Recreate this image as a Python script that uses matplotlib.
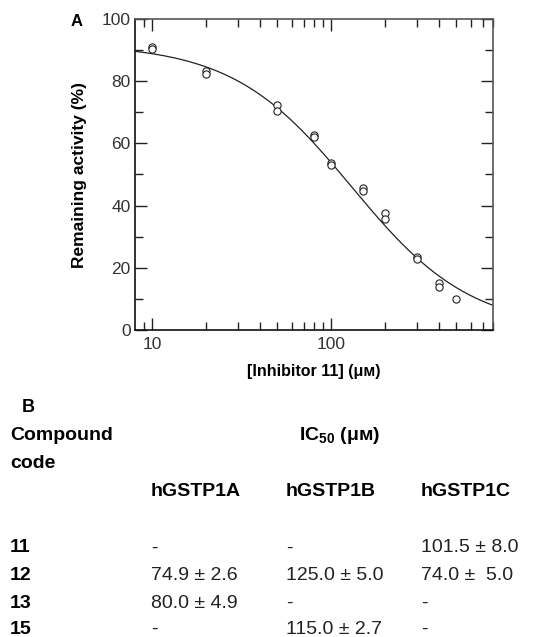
import numpy as np
import matplotlib
matplotlib.use("Agg")
import matplotlib.pyplot as plt
from matplotlib.ticker import FixedLocator, NullFormatter, FixedFormatter

plt.rcParams["font.family"] = ["Liberation Sans", "DejaVu Sans"]
plt.rcParams["mathtext.fontset"] = "custom"
plt.rcParams["mathtext.rm"] = "Liberation Sans"
plt.rcParams["mathtext.bf"] = "Liberation Sans:bold"

# panel A: inhibitor 11 dose response (duplicates)
conc = [10, 10, 20, 20, 50, 50, 80, 80, 100, 100, 150, 150, 200, 200, 300, 300, 400, 400, 500]
activity = [91.0, 90.5, 83.4, 82.3, 72.3, 70.4, 62.7, 62.1, 53.6, 52.9, 45.5, 44.8,
            37.5, 35.8, 23.4, 22.7, 15.0, 13.9, 10.1]
# fitted curve parameters (top, IC50, Hill slope)
fit_top, fit_ic50, fit_hill = 92.0, 130.0, 1.30

# panel B: table
col_headers = ["hGSTP1A", "hGSTP1B", "hGSTP1C"]
compounds = ["11", "12", "13", "15"]
col_a = ["-", "74.9 \u00b1 2.6", "80.0 \u00b1 4.9", "-"]
col_b = ["-", "125.0 \u00b1 5.0", "-", "115.0 \u00b1 2.7"]
col_c = ["101.5 \u00b1 8.0", "74.0 \u00b1  5.0", "-", "-"]

W, H = 544, 637
fig = plt.figure(figsize=(W / 100, H / 100), dpi=100)

def fx(px):
    return px / W

def fy(py):
    return 1 - py / H

ax = fig.add_axes([fx(135), fy(330), fx(493) - fx(135), fy(19) - fy(330)])
ax.set_xscale("log")
ax.set_xlim(8, 800)
ax.set_ylim(0, 100)

xs = np.logspace(np.log10(8), np.log10(800), 300)
ax.plot(xs, fit_top / (1 + (xs / fit_ic50) ** fit_hill), color="#222222", lw=0.9)
ax.plot(conc, activity, "o", mfc="white", mec="#222222", ms=5.2, mew=0.8, ls="none")

ax.xaxis.set_major_locator(FixedLocator([10, 100]))
ax.xaxis.set_major_formatter(FixedFormatter(["10", "100"]))
ax.xaxis.set_minor_locator(FixedLocator([9, 20, 30, 40, 50, 60, 70, 80, 90,
                                         200, 300, 400, 500, 600, 700, 800]))
ax.xaxis.set_minor_formatter(NullFormatter())
ax.set_yticks([0, 20, 40, 60, 80, 100])
ax.set_yticks([10, 30, 50, 70, 90], minor=True)

ax.tick_params(which="both", direction="in", top=True, right=True, width=1.0,
               colors="#222222", labelcolor="#333333", labelsize=12.5)
ax.tick_params(which="major", length=8.5)
ax.tick_params(axis="x", which="major", pad=5)
ax.tick_params(axis="y", which="major", pad=3)
ax.tick_params(which="minor", length=5.5)
for side in ["left", "bottom"]:
    ax.spines[side].set_linewidth(1.2)
    ax.spines[side].set_color("#111111")
for side in ["top", "right"]:
    ax.spines[side].set_linewidth(1.2)
    ax.spines[side].set_color("#555555")

ax.set_ylabel("Remaining activity (%)", fontsize=12.5, fontweight="bold", labelpad=11)
ax.set_xlabel("[Inhibitor 11] (\u03bc\u043c)", fontsize=11.5, fontweight="bold", labelpad=9)

fig.text(fx(77), fy(22), "A", fontsize=12, fontweight="bold", ha="center", va="center")

# panel B table
fig.text(fx(28), fy(407), "B", fontsize=13, fontweight="bold", ha="center", va="center")
fig.text(fx(10), fy(436), "Compound", fontsize=14, fontweight="bold", va="center")
fig.text(fx(10), fy(464), "code", fontsize=14, fontweight="bold", va="center")
fig.text(fx(299), fy(436), r"IC$_{\mathbf{50}}$ (\u03bc\u043c)".replace("\\u03bc", "\u03bc").replace("\\u043c", "\u043c"),
         fontsize=14, fontweight="bold", va="center")

col_x = [151, 286, 421]
for x, h in zip(col_x, col_headers):
    fig.text(fx(x), fy(492), h, fontsize=14, fontweight="bold", va="center")

row_y = [548, 575, 603, 629]
for i, (y, c) in enumerate(zip(row_y, compounds)):
    fig.text(fx(10), fy(y), c, fontsize=14, fontweight="bold", va="center")
    for x, col in zip(col_x, [col_a, col_b, col_c]):
        fig.text(fx(x), fy(y), col[i], fontsize=14, va="center", color="#222222")

fig.savefig("out.png", dpi=100)
